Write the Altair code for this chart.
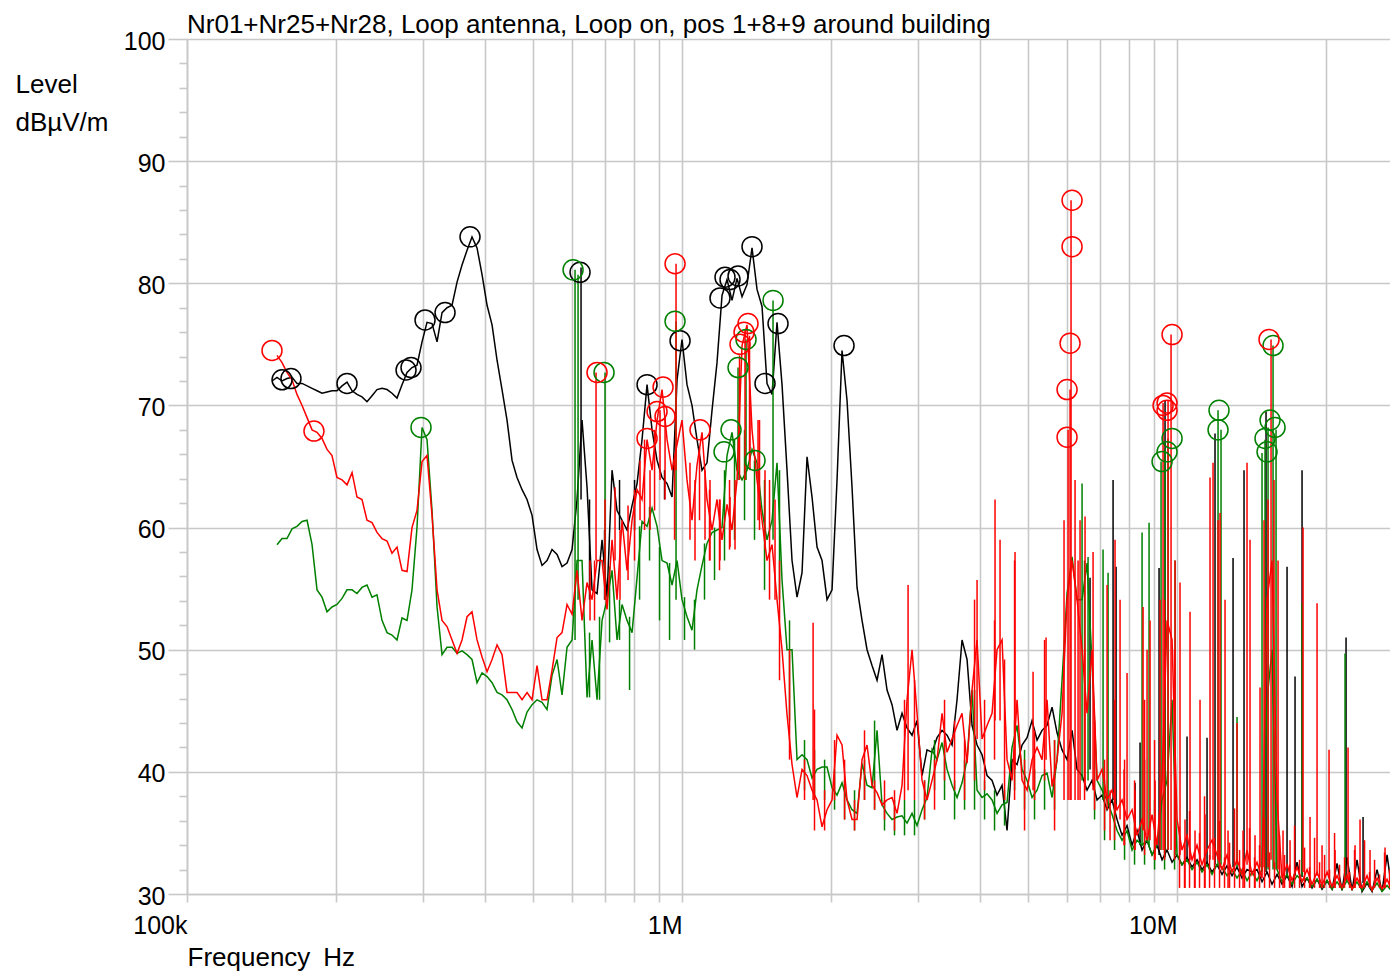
import altair as alt
import pandas as pd

FONT = "Liberation Sans"
GRID = "#c8c8c8"
XMAX = 26.93  # MHz, right edge of the plot

# frequency grid (MHz)
freq_d1 = [0.1485, 0.1520, 0.1556, 0.1592, 0.1630, 0.1668, 0.1708, 0.1748, 0.1789, 0.1831,
           0.1874, 0.1918, 0.1963, 0.2009, 0.2057, 0.2105, 0.2155, 0.2205, 0.2257, 0.2310,
           0.2365, 0.2420, 0.2477, 0.2536, 0.2595, 0.2656, 0.2719, 0.2783, 0.2848, 0.2915,
           0.2984, 0.3054, 0.3126, 0.3200, 0.3275, 0.3352, 0.3431, 0.3512, 0.3594, 0.3679,
           0.3765, 0.3854, 0.3945, 0.4038, 0.4133, 0.4230, 0.4329, 0.4431, 0.4536, 0.4642,
           0.4752, 0.4863, 0.4978, 0.5095, 0.5215, 0.5337, 0.5463, 0.5592, 0.5723, 0.5858,
           0.5996, 0.6137, 0.6281, 0.6429, 0.6580, 0.6735, 0.6894, 0.7056, 0.7222, 0.7392,
           0.7566, 0.7744, 0.7926, 0.8113, 0.8303, 0.8499, 0.8699, 0.8904, 0.9113, 0.9328,
           0.9547, 0.9772]
freq_d2 = [1.0000, 1.0235, 1.0476, 1.0723, 1.0975, 1.1233, 1.1498, 1.1768, 1.2045, 1.2329,
           1.2619, 1.2916, 1.3220, 1.3531, 1.3849, 1.4175, 1.4509, 1.4850, 1.5200, 1.5557,
           1.5924, 1.6298, 1.6682, 1.7075, 1.7477, 1.7888, 1.8309, 1.8740, 1.9181, 1.9632,
           2.0094, 2.0567, 2.1051, 2.1546, 2.2053, 2.2572, 2.3103, 2.3647, 2.4203, 2.4773,
           2.5356, 2.5953, 2.6563, 2.7188, 2.7828, 2.8483, 2.9153, 2.9839, 3.0542, 3.1260,
           3.1996, 3.2749, 3.3520, 3.4309, 3.5116, 3.5942, 3.6788, 3.7654, 3.8540, 3.9447,
           4.0375, 4.1325, 4.2298, 4.3293, 4.4312, 4.5355, 4.6422, 4.7515, 4.8633, 4.9777,
           5.0948, 5.2147, 5.3374, 5.4630, 5.5916, 5.7232, 5.8578, 5.9957, 6.1368, 6.2812,
           6.4290, 6.5803, 6.7351, 6.8936, 7.0558, 7.2218, 7.3918, 7.5657, 7.7438, 7.9260,
           8.1125, 8.3034, 8.4988, 8.6988, 8.9035, 9.1130, 9.3275, 9.5469, 9.7716]
freq_d3 = [10.000, 10.235, 10.476, 10.723, 10.975, 11.233, 11.498, 11.768, 12.045, 12.329,
           12.619, 12.916, 13.220, 13.531, 13.849, 14.175, 14.509, 14.850, 15.200, 15.557,
           15.924, 16.298, 16.682, 17.075, 17.477, 17.888, 18.309, 18.740, 19.181, 19.632,
           20.094, 20.567, 21.051, 21.546, 22.053, 22.572, 23.103, 23.647, 24.203, 24.773,
           25.356, 25.953, 26.563, 27.188, 27.828]
freq_mhz = freq_d1 + freq_d2 + freq_d3

# levels dBuV/m (Nr01 black, Nr25 red, Nr28 green)
black_level = [
    72.0, 72.3, 72.0, 72.2, 72.3, 71.8, 71.8, 71.6, 71.4, 71.2,
    71.0, 71.1, 71.2, 71.2, 71.6, 71.9, 71.2, 70.9, 70.7, 70.3,
    70.8, 71.3, 71.4, 71.3, 71.0, 70.6, 71.7, 72.7, 73.1, 73.3,
    75.2, 76.8, 76.7, 75.2, 77.6, 78.0, 78.2, 80.1, 81.5, 82.7,
    83.8, 82.9, 80.7, 78.2, 76.6, 73.7, 71.3, 68.8, 65.5, 64.1,
    63.1, 62.3, 61.0, 58.2, 56.9, 57.3, 58.2, 57.8, 56.8, 57.1,
    58.2, 62.3, 68.8, 63.3, 54.9, 54.6, 59.0, 54.3, 64.7, 61.4,
    60.6, 59.8, 61.8, 63.6, 67.2, 71.7, 68.0, 65.5, 64.1, 63.6,
    62.5, 72.1,
    75.4, 71.7, 70.0, 67.2, 64.7, 65.3, 69.6, 73.5, 79.0, 80.3,
    78.6, 80.4, 78.9, 79.9, 82.9, 79.5, 78.1, 71.8, 70.9, 76.8,
    71.7, 64.7, 57.3, 54.3, 56.3, 65.8, 62.5, 58.4, 57.3, 54.1,
    54.9, 63.9, 74.5, 70.4, 63.3, 55.1, 52.4, 50.0, 48.7, 47.5,
    49.6, 46.7, 45.5, 43.4, 44.8, 43.6, 43.0, 44.2, 39.7, 41.8,
    41.6, 42.8, 43.4, 43.0, 42.2, 45.9, 50.8, 49.2, 43.8, 42.2,
    41.4, 39.7, 39.3, 38.1, 38.9, 35.2, 41.0, 40.6, 42.2, 42.8,
    44.2, 42.6, 43.4, 43.8, 45.3, 43.2, 41.8, 41.0, 43.4, 40.2,
    39.7, 38.5, 39.3, 37.7, 38.1, 36.9, 37.7, 36.1, 34.8, 35.6,
    34.0, 35.2, 33.6, 34.4, 33.2, 34.0, 32.8, 33.6, 32.6,
    33.2, 32.4, 33.0, 32.2, 32.8, 32.0, 32.6, 31.8, 32.4, 31.6,
    32.3, 31.5, 32.2, 31.3, 32.0, 31.8, 32.0, 31.0, 31.8, 30.8,
    31.6, 30.8, 31.5, 30.6, 32.6, 30.6, 31.3, 30.5, 31.2, 30.4,
    31.1, 30.4, 32.5, 30.3, 33.0, 30.3, 32.8, 30.2, 30.9, 30.2,
    32.0, 30.2, 33.2, 30.2, 30.6]
red_level = [
    None, 74.1, 73.5, 72.7, 72.1, 70.9, 70.0, 69.0, 68.0, 67.8,
    67.3, 66.4, 65.9, 64.1, 63.9, 63.5, 64.5, 62.5, 62.3, 60.6,
    60.4, 59.6, 59.1, 58.9, 57.9, 58.4, 56.5, 56.4, 60.0, 61.4,
    65.4, 65.9, 61.0, 54.9, 52.4, 51.9, 50.8, 49.7, 50.8, 52.7,
    53.1, 50.8, 49.4, 48.2, 49.2, 50.4, 49.6, 46.5, 46.5, 46.5,
    45.9, 46.5, 45.9, 48.7, 45.9, 45.9, 48.3, 51.0, 51.4, 53.7,
    52.9, 56.5, 52.4, 55.5, 54.1, 57.3, 57.3, 53.3, 59.0, 54.1,
    60.6, 56.5, 60.6, 63.1, 62.3, 67.2, 64.7, 68.8, 71.3, 67.2,
    64.7, 66.8,
    68.8, 63.9, 60.6, 65.1, 67.8, 62.3, 59.8, 62.3, 59.0, 61.9,
    59.8, 63.9, 74.9, 76.6, 68.0, 63.9, 60.6, 57.3, 58.6, 54.1,
    50.0, 44.7, 40.6, 37.9, 40.2, 39.7, 38.5, 37.7, 35.5, 36.9,
    37.7, 43.0, 42.2, 37.7, 36.1, 36.1, 41.0, 42.2, 38.9, 38.3,
    37.3, 37.7, 37.9, 36.6, 38.9, 45.9, 50.0, 44.8, 39.3, 37.7,
    39.3, 41.0, 44.8, 41.6, 42.7, 43.8, 44.8, 40.7, 46.7, 50.8,
    42.7, 43.8, 44.8, 50.0, 50.8, 41.0, 39.3, 45.9, 39.3, 38.5,
    41.0, 42.0, 41.0, 45.9, 38.8, 41.0, 44.8, 54.1, 57.3, 54.1,
    50.0, 44.8, 50.0, 39.3, 40.2, 37.7, 38.5, 36.9, 37.7, 36.1,
    36.9, 34.8, 36.1, 34.4, 36.5, 34.0, 39.3, 52.4, 50.8,
    36.1, 33.6, 34.8, 32.8, 34.0, 32.4, 33.6, 34.4, 33.2, 32.0,
    33.2, 31.8, 32.8, 31.6, 33.6, 31.6, 32.6, 31.3, 54.1, 57.3,
    37.7, 31.3, 32.4, 31.1, 32.2, 31.0, 32.0, 30.8, 31.8, 30.7,
    31.8, 30.6, 31.5, 30.5, 31.5, 30.4, 31.3, 30.5, 31.5, 30.3,
    31.3, 30.4, 31.2, 30.3, 31.1]
green_level = [
    None, 58.6, 59.1, 59.1, 59.9, 60.1, 60.5, 60.6, 58.6, 54.9,
    54.3, 53.1, 53.5, 53.7, 54.2, 54.9, 54.9, 54.6, 55.1, 55.3,
    54.3, 54.5, 52.4, 51.4, 51.2, 50.8, 52.6, 52.4, 54.9, 60.0,
    68.2, 67.2, 61.4, 53.5, 49.6, 50.2, 50.2, 49.7, 49.9, 49.6,
    49.2, 47.3, 48.1, 47.8, 47.3, 46.5, 46.3, 45.9, 45.1, 44.1,
    43.6, 44.9, 45.5, 45.9, 45.7, 45.1, 47.9, 49.2, 46.3, 50.2,
    50.8, 57.3, 57.3, 46.1, 50.8, 45.9, 52.4, 54.1, 56.5, 50.8,
    53.7, 52.4, 51.4, 55.9, 60.5, 60.1, 61.6, 60.1, 57.3, 57.1,
    55.3, 57.3,
    54.1, 52.7, 51.6, 54.9, 56.9, 58.7, 59.6, 59.8, 60.0, 65.9,
    67.8, 64.7, 63.9, 64.7, 66.4, 65.3, 61.4, 59.0, 60.6, 65.3,
    55.7, 50.0, 50.0, 41.0, 41.4, 41.0, 39.5, 40.2, 40.4, 40.4,
    38.7, 38.1, 39.1, 37.7, 36.9, 36.6, 40.7, 38.9, 38.7, 43.4,
    37.3, 36.6, 36.1, 36.3, 36.4, 35.8, 36.6, 35.6, 36.9, 37.9,
    41.8, 41.0, 42.4, 40.2, 38.9, 37.9, 39.1, 41.0, 46.7, 38.5,
    37.9, 38.2, 37.7, 36.6, 37.3, 37.5, 42.0, 43.8, 40.2, 39.3,
    37.9, 38.5, 39.7, 39.9, 37.9, 41.0, 47.5, 54.6, 57.6, 54.1,
    54.1, 57.1, 48.9, 39.3, 38.5, 37.7, 36.5, 35.2, 34.4, 35.2,
    33.6, 34.4, 34.0, 34.4, 33.2, 34.0, 37.7, 39.3, 45.9,
    33.2, 32.4, 32.8, 32.0, 32.6, 31.8, 32.4, 31.6, 32.4, 32.2,
    31.5, 32.0, 31.3, 32.0, 31.1, 31.8, 31.1, 32.0, 45.9, 50.0,
    32.0, 31.0, 31.6, 30.8, 31.5, 31.1, 31.3, 30.6, 31.2, 30.5,
    31.1, 30.4, 31.0, 30.4, 31.1, 30.4, 31.0, 30.3, 31.0, 30.3,
    30.9, 30.2, 30.7, 30.2, 30.7]

# narrow spikes: frequency (MHz), peak level, floor level
black_spike_f = [0.6252, 6.672, 7.427, 7.531, 8.226, 8.420, 9.198, 9.458, 10.476, 11.498,
                 11.933, 12.977, 13.657, 15.129, 16.682, 17.314, 17.888, 21.951, 23.758,
                 0.6504, 0.6975, 0.7478, 0.8019, 0.9219]
black_spike_top = [81.3, 55.9, 63.9, 56.8, 39.1, 42.4, 56.7, 70.4, 42.9, 42.8,
                   67.7, 57.5, 64.7, 69.5, 56.8, 47.8, 64.7, 51.0, 36.3,
                   62.3, 59.8, 63.9, 63.9, 64.7]
black_spike_base = [62.3, 40.2, 37.7, 36.9, 34.4, 34.0, 33.2, 33.0, 32.8, 32.6,
                    32.4, 32.2, 32.0, 31.8, 31.5, 31.5, 31.4, 31.1, 30.9,
                    54.1, 54.1, 59.8, 59.8, 62.3]

red_spike_f = [0.6519, 0.6704, 0.6990, 0.7323, 0.7495, 0.7780, 0.8226, 0.8618, 0.9028, 0.9241,
               0.9726, 1.0378, 1.0623, 1.1129, 1.1390, 1.1933, 1.2502, 1.2796, 1.3405, 1.3720,
               1.4242, 1.4712, 1.5413, 1.840, 2.862, 3.945, 4.289, 4.390, 4.707, 5.119,
               5.438, 5.912, 6.024, 6.080, 6.108, 6.223, 6.311, 6.369, 6.519, 6.767,
               7.222, 7.323, 7.495, 7.672, 7.816, 7.926, 8.226, 8.539, 8.699, 8.821,
               9.028, 9.241, 9.371, 9.591, 9.726, 9.909, 10.14, 10.378, 10.623, 10.873,
               11.129, 11.390, 11.659, 11.823, 12.102, 12.214, 12.502, 12.678, 13.220, 13.594,
               13.849, 14.043, 14.373, 14.712, 14.988, 15.271, 15.486, 15.702, 15.998, 16.374,
               16.916, 17.972, 18.565, 19.181, 19.632, 20.281, 20.855, 22.156, 22.888, 23.426,
               24.542, 26.316]
red_spike_top = [57.3, 72.7, 62.3, 63.3, 59.8, 61.8, 65.5, 64.7, 69.6, 69.1,
                 81.6, 65.3, 63.9, 64.7, 63.9, 62.3, 62.5, 63.9, 76.2, 71.3,
                 68.8, 64.7, 62.3, 52.2, 55.3, 55.7, 62.3, 59.0, 58.0, 48.2,
                 51.0, 60.6, 68.0, 71.3, 86.8, 63.9, 57.3, 60.6, 60.9, 58.0,
                 55.3, 38.5, 59.0, 54.1, 40.2, 48.1, 38.5, 53.5, 50.0, 52.4,
                 39.3, 54.1, 70.2, 70.4, 75.8, 57.3, 55.5, 36.1, 53.1, 35.2,
                 45.9, 36.5, 64.1, 65.3, 60.6, 61.2, 54.1, 35.2, 44.0, 35.2,
                 65.3, 59.0, 34.8, 46.9, 60.6, 62.3, 75.4, 63.9, 57.3, 35.2,
                 34.4, 60.0, 36.3, 53.8, 34.0, 41.8, 33.6, 42.0, 34.0, 36.1,
                 33.6, 33.8]
red_spike_base = [52.4, 57.3, 54.1, 57.3, 54.1, 55.7, 60.6, 59.8, 63.9, 62.3,
                  64.7, 59.0, 57.3, 59.0, 57.3, 57.3, 58.4, 58.2, 63.9, 64.7,
                  60.6, 58.2, 54.1, 37.7, 38.5, 42.7, 44.2, 44.2, 40.2, 38.5,
                  41.0, 37.7, 37.7, 37.7, 37.7, 37.7, 37.7, 37.7, 38.5, 38.5,
                  36.9, 34.4, 36.5, 36.1, 34.0, 36.1, 33.6, 35.2, 34.8, 34.4,
                  32.8, 33.6, 33.6, 33.6, 33.6, 33.6, 33.2, 30.5, 32.8, 30.5,
                  32.8, 30.5, 32.8, 32.8, 32.8, 32.8, 32.4, 30.5, 32.4, 30.5,
                  32.4, 32.4, 30.5, 32.2, 32.2, 32.2, 32.8, 32.2, 32.0, 30.5,
                  30.5, 31.8, 30.5, 31.5, 30.5, 31.3, 30.5, 31.1, 30.5, 30.5,
                  30.5, 30.5]

green_spike_f = [0.6080, 0.6166, 0.6990, 0.9726, 1.2977, 1.3469, 1.5271, 6.429, 6.611, 7.089,
                 7.256, 8.499, 8.780, 9.284, 9.458, 9.591, 9.909, 12.102, 12.271, 13.220,
                 14.850, 15.058, 15.271, 15.630, 15.850, 17.888, 21.848]
green_spike_top = [81.1, 80.7, 72.7, 76.9, 73.1, 75.4, 78.6, 63.6, 57.6, 58.2,
                   56.3, 59.6, 60.4, 65.4, 66.5, 67.3, 57.3, 69.6, 68.0, 44.5,
                   66.1, 67.2, 68.2, 74.9, 68.0, 53.8, 49.7]
green_spike_base = [50.8, 54.1, 54.1, 54.1, 63.9, 63.9, 59.0, 39.3, 39.3, 37.7,
                    37.3, 34.0, 34.0, 33.6, 33.6, 33.6, 33.2, 32.4, 32.4, 32.2,
                    32.0, 32.0, 32.0, 32.0, 32.0, 31.5, 31.1]

# dense noise band (upper and lower edge of the fast fluctuation)
red_band_f = [0.6657, 0.8019, 0.8400, 0.8801, 0.9659, 1.0848, 1.1364, 1.1906, 1.2473, 1.3067,
              1.3689, 1.4341, 1.5024, 1.5739, 1.6489,
              1.768, 1.852, 1.941, 2.033, 2.130, 2.231, 2.337, 2.449, 2.565, 2.687,
              2.815, 2.949, 3.090, 3.237, 3.391, 3.553, 3.722, 3.899, 4.085, 4.279,
              4.483, 4.697, 4.920, 5.154, 5.400, 5.657,
              6.504, 6.814, 7.138, 7.478, 7.834, 8.207, 8.598, 9.008, 9.437, 9.886,
              10.117, 10.355, 10.599, 10.848, 11.103, 11.364, 11.633, 11.906, 12.186, 12.473,
              12.767, 13.067, 13.375, 13.689, 14.011, 14.341, 14.679, 15.024, 15.378, 15.739,
              16.110, 16.489, 16.877, 17.275, 17.681, 18.097, 18.523, 18.959, 19.405, 19.862,
              20.329, 20.808, 21.297, 21.798, 22.311, 22.836, 23.373, 23.924, 24.486, 25.063,
              25.653, 26.257, 26.874]
red_band_top = [57.3, 63.1, 67.2, 68.0, 65.5, 66.5, 63.1, 62.3, 63.9, 74.1,
                75.7, 68.8, 63.9, 57.3, 50.0,
                41.0, 45.1, 38.5, 42.6, 41.0, 37.7, 43.4, 39.3, 39.3, 38.5,
                45.9, 47.5, 39.3, 41.0, 45.9, 44.2, 42.6, 54.1, 45.9, 52.4,
                49.2, 57.3, 41.0, 43.4, 50.8, 42.6,
                50.0, 44.2, 41.0, 45.9, 41.0, 39.3, 45.9, 42.6, 54.1, 50.0,
                35.5, 34.0, 36.8, 33.5, 35.0, 38.0, 33.2, 34.6, 36.0, 33.0,
                34.2, 37.0, 33.6, 32.8, 35.4, 33.0, 34.0, 36.2, 33.4, 32.6,
                34.8, 33.2, 32.4, 35.6, 32.8, 33.8, 32.2, 34.6, 32.6, 33.2,
                32.0, 35.0, 32.4, 33.0, 31.8, 33.6, 32.2, 34.4, 31.8, 32.8,
                31.6, 33.4, 32.0]
red_band_base = [52.4, 57.3, 59.8, 61.4, 59.0, 60.6, 57.3, 56.5, 58.2, 63.9,
                 65.5, 59.8, 54.1, 47.5, 41.0,
                 37.7, 35.2, 35.2, 37.7, 36.1, 35.2, 37.7, 36.9, 36.1, 35.2,
                 37.7, 37.7, 36.1, 36.9, 39.3, 38.5, 37.7, 39.3, 38.5, 41.0,
                 37.7, 37.7, 35.2, 37.7, 39.3, 35.2,
                 37.7, 36.9, 35.2, 34.4, 34.0, 33.6, 33.2, 32.8, 32.8, 32.8,
                 30.5, 30.5, 30.5, 30.5, 30.5, 30.5, 30.5, 30.5, 30.5, 30.5,
                 30.5, 30.5, 30.5, 30.5, 30.5, 30.5, 30.5, 30.5, 30.5, 30.5,
                 30.5, 30.5, 30.5, 30.5, 30.5, 30.5, 30.5, 30.5, 30.5, 30.5,
                 30.5, 30.5, 30.5, 30.5, 30.5, 30.5, 30.5, 30.5, 30.5, 30.5,
                 30.5, 30.5, 30.5]
green_band_f = [0.6504, 0.6814, 0.7139, 0.7478, 0.7835, 0.8208, 0.8598, 0.9008, 0.9437, 1.0117,
                1.0599, 1.1103, 1.1633, 1.2186, 1.2767, 1.3375, 1.4011, 1.4679, 1.5739, 1.6489,
                1.768, 1.852, 1.941, 2.033, 2.130, 2.231, 2.337, 2.449, 2.565, 2.687,
                2.815, 2.949, 3.090, 3.237, 3.391, 3.553, 3.722, 3.899, 4.085, 4.279,
                4.483, 4.697, 4.920, 5.154, 5.400, 5.657,
                6.504, 6.814, 7.138, 7.478, 7.834, 8.207, 8.598, 9.008, 9.437, 9.886]
green_band_top = [51.4, 52.7, 56.8, 54.1, 52.7, 60.1, 61.7, 58.4, 57.1, 54.3,
                  54.1, 58.7, 60.0, 64.7, 67.2, 68.0, 65.5, 63.9, 64.7, 52.4,
                  42.6, 41.8, 41.0, 40.2, 39.3, 38.5, 41.0, 44.2, 37.7, 37.7,
                  37.7, 37.7, 39.3, 42.6, 42.6, 39.3, 41.0, 46.7, 39.3, 38.5,
                  38.5, 44.2, 41.8, 40.2, 40.2, 42.6,
                  57.3, 41.0, 39.3, 37.7, 36.1, 36.1, 41.0, 37.7, 50.0, 45.9]
green_band_base = [46.1, 45.9, 50.6, 50.8, 46.7, 54.1, 57.3, 52.4, 50.8, 50.8,
                   50.0, 54.1, 55.7, 57.3, 59.0, 60.6, 59.0, 54.9, 54.1, 44.2,
                   38.5, 37.7, 37.7, 36.9, 36.1, 35.2, 37.7, 36.9, 35.2, 34.8,
                   34.8, 34.8, 36.1, 38.5, 37.7, 36.1, 36.9, 36.9, 36.1, 35.2,
                   35.6, 38.5, 36.9, 36.1, 36.9, 36.9,
                   39.3, 36.1, 34.4, 33.6, 32.8, 32.4, 32.4, 32.0, 32.0, 32.0]

# peak markers
black_mark_f = [0.1556, 0.1622, 0.2105, 0.2770, 0.2835, 0.3026, 0.3321, 0.3730, 0.6223, 0.8499,
                0.9909, 1.1933, 1.2214, 1.2502, 1.2977, 1.3849, 1.4712, 1.5630, 2.1247]
black_mark_l = [72.1, 72.2, 71.8, 72.9, 73.1, 77.0, 77.6, 83.8, 80.9, 71.7,
                75.3, 78.8, 80.5, 80.3, 80.6, 83.0, 71.8, 76.7, 74.9]
red_mark_f = [0.1485, 0.1805, 0.6735, 0.8499, 0.8904, 0.9156, 0.9241, 0.9681, 1.0873, 1.3097,
              1.3343, 1.3594, 5.9957, 5.9957, 6.080, 6.1368, 6.1368, 9.371, 9.5469, 9.5469,
              9.7716, 15.341]
red_mark_l = [74.5, 67.9, 72.7, 67.3, 69.5, 71.5, 69.1, 81.6, 68.0, 75.0,
              76.0, 76.7, 71.3, 67.4, 75.1, 83.0, 86.8, 70.0, 70.2, 69.6,
              75.8, 75.4]
green_mark_f = [0.2970, 0.6024, 0.6958, 0.9681, 1.2157, 1.2561, 1.2977, 1.3469, 1.4043, 1.5271,
                9.3275, 9.5469, 9.7716, 12.157, 12.102, 15.058, 15.200, 15.413, 15.630, 15.775]
green_mark_l = [68.2, 81.1, 72.7, 76.9, 66.2, 68.0, 73.1, 75.4, 65.5, 78.6,
                65.4, 66.2, 67.3, 69.6, 68.0, 67.3, 66.2, 68.8, 74.9, 68.2]

x_ticks = [0.1, 0.2, 0.3, 0.4, 0.5, 0.6, 0.7, 0.8, 0.9,
           1, 2, 3, 4, 5, 6, 7, 8, 9, 10, 20]
y_ticks = list(range(30, 101, 2))

TITLE = "Nr01+Nr25+Nr28, Loop antenna, Loop on, pos 1+8+9 around building"


def trace_df(levels):
    if len(levels) != len(freq_mhz):
        raise ValueError("length mismatch")
    return pd.DataFrame({"f": freq_mhz, "L": levels}).dropna()


xscale = alt.Scale(type="log", domain=[0.1, XMAX], nice=False)
yscale = alt.Scale(domain=[30, 100], nice=False, zero=False)

xaxis = alt.Axis(
    values=x_ticks,
    labelExpr="datum.value == 0.1 ? '100k' : datum.value == 1 ? '1M' : datum.value == 10 ? '10M' : ''",
    grid=True, gridColor=GRID, gridWidth=1.6,
    ticks=True, tickSize=8, tickColor=GRID, tickWidth=1.6,
    domain=True, domainColor=GRID, domainWidth=1.6,
    labelFont=FONT, labelFontSize=25, labelColor="black",
    labelAlign="right", labelBaseline="alphabetic", labelPadding=31,
    labelFlush=False, labelOverlap=False,
    title="Frequency\u2002Hz", titleFont=FONT, titleFontSize=26, titleFontWeight="normal",
    titleColor="black", titleX=0, titleY=71, titleAlign="left", titleBaseline="alphabetic",
)
yaxis = alt.Axis(
    values=y_ticks,
    labelExpr="datum.value % 10 === 0 ? datum.value : ''",
    grid=True, gridColor=GRID, gridWidth=1.6,
    gridOpacity={"condition": {"test": "datum.value % 10 === 0", "value": 1}, "value": 0},
    ticks=True, tickColor=GRID, tickWidth=1.6,
    tickSize={"condition": {"test": "datum.value % 10 === 0", "value": 19}, "value": 8},
    domain=True, domainColor=GRID, domainWidth=1.6,
    labelFont=FONT, labelFontSize=25, labelColor="black",
    labelAlign="right", labelBaseline="middle", labelPadding=3, labelOffset=2,
    labelOverlap=False,
    title=["Level", "dB\u00b5V/m"], titleFont=FONT, titleFontSize=26, titleFontWeight="normal",
    titleColor="black", titleAngle=0, titleAlign="left", titleBaseline="alphabetic",
    titleX=-172, titleY=53, titleLineHeight=38,
)

COLORS = {"black": "#000000", "red": "#ff0000", "green": "#008000"}


def enc_x():
    return alt.X("f:Q", scale=xscale, axis=xaxis)


def line_layer(levels, color):
    return alt.Chart(trace_df(levels)).mark_line(
        color=color, strokeWidth=1.5, clip=True
    ).encode(x=enc_x(), y=alt.Y("L:Q", scale=yscale, axis=yaxis))


def rule_layer(fs, tops, bases, color, width=1.5):
    df = pd.DataFrame({"f": fs, "L": tops, "base": bases})
    return alt.Chart(df).mark_rule(color=color, strokeWidth=width, clip=True).encode(
        x=enc_x(), y=alt.Y("L:Q", scale=yscale, axis=yaxis), y2="base:Q",
    )


def marker_layer(fs, ls, color):
    df = pd.DataFrame({"f": fs, "L": ls})
    return alt.Chart(df).mark_point(
        shape="circle", filled=False, size=400, strokeWidth=1.5,
        color=color, opacity=1, clip=True
    ).encode(x=enc_x(), y=alt.Y("L:Q", scale=yscale, axis=yaxis))


chart = alt.layer(
    line_layer(black_level, COLORS["black"]),
    rule_layer(black_spike_f, black_spike_top, black_spike_base, COLORS["black"]),
    line_layer(green_level, COLORS["green"]),
    rule_layer(green_band_f, green_band_top, green_band_base, COLORS["green"]),
    rule_layer(green_spike_f, green_spike_top, green_spike_base, COLORS["green"]),
    line_layer(red_level, COLORS["red"]),
    rule_layer(red_band_f, red_band_top, red_band_base, COLORS["red"]),
    rule_layer(red_spike_f, red_spike_top, red_spike_base, COLORS["red"]),
    marker_layer(black_mark_f, black_mark_l, COLORS["black"]),
    marker_layer(green_mark_f, green_mark_l, COLORS["green"]),
    marker_layer(red_mark_f, red_mark_l, COLORS["red"]),
).properties(
    width=1203,
    height=855,
    title=alt.TitleParams(
        TITLE, anchor="start", frame="group", offset=6, dy=15,
        font=FONT, fontSize=26, fontWeight="normal", color="black",
    ),
    padding={"left": 179, "top": 31, "right": 0, "bottom": 80},
    autosize=alt.AutoSizeParams(type="none"),
    background="white",
).configure_view(strokeWidth=0)

chart.save("out.html", embed_options={"renderer": "svg", "actions": False})
